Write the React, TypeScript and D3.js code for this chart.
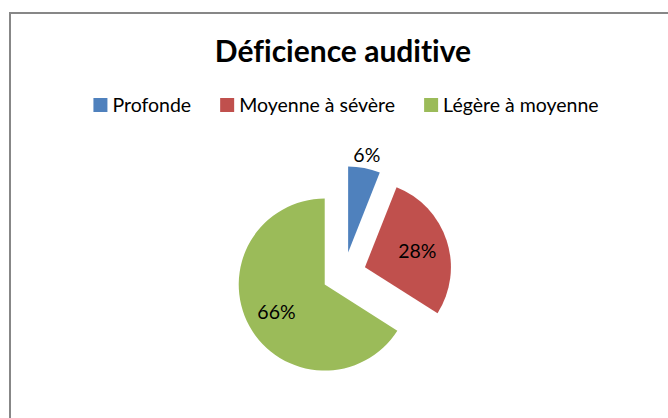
import React from "react";
import * as d3 from "d3";

const categories = ["Profonde", "Moyenne à sévère", "Légère à moyenne"];
const values = [6, 28, 66];
const colors = ["#4F81BD", "#C0504D", "#9BBB59"];
const title = "Déficience auditive";

const W = 668;
const H = 418;
const FONT = "Lato, 'Open Sans', sans-serif";

function measure(text: string, font: string): number {
  const c = document.createElement("canvas");
  const ctx = c.getContext("2d");
  if (!ctx) return text.length * 8;
  ctx.font = font;
  return ctx.measureText(text).width;
}

export default function App() {
  const cx = 344;
  const cy = 274;
  const r = 86;
  const explode = 22;

  const pie = d3.pie<number>().sort(null).value((d) => d)(values);
  const arc = d3.arc<d3.PieArcDatum<number>>().innerRadius(0).outerRadius(r);
  const total = d3.sum(values);

  const legendFontSize = 19.5;
  const sq = 14;
  const sqGap = 5;
  const itemGap = 29;
  const widths = categories.map((c) => measure(c, `${legendFontSize}px Lato`));
  const itemW = widths.map((w) => sq + sqGap + w);
  const totalLegend = d3.sum(itemW) + itemGap * (categories.length - 1);
  const legendX0 = 346 - totalLegend / 2;
  const legendXs: number[] = [];
  let acc = legendX0;
  itemW.forEach((w) => {
    legendXs.push(acc);
    acc += w + itemGap;
  });

  const noLig = { fontVariantLigatures: "none" } as React.CSSProperties;

  return (
    <svg
      width={W}
      height={H}
      style={{ position: "absolute", left: 0, top: 0, background: "#fff" }}
    >
      <rect x={0} y={0} width={W} height={H} fill="#fff" />
      <rect
        x={10}
        y={13}
        width={W + 20}
        height={H + 20}
        fill="#fff"
        stroke="#878787"
        strokeWidth={2}
      />
      <text
        x={343}
        y={62}
        textAnchor="middle"
        fontFamily={FONT}
        fontWeight="bold"
        fontSize={30}
        fill="#000"
        style={noLig}
      >
        {title}
      </text>
      {categories.map((c, i) => (
        <g key={c}>
          <rect x={legendXs[i]} y={98} width={sq} height={sq} fill={colors[i]} />
          <text
            x={legendXs[i] + sq + sqGap}
            y={112}
            fontFamily={FONT}
            fontSize={legendFontSize}
            fill="#000"
            style={noLig}
          >
            {c}
          </text>
        </g>
      ))}
      {pie.map((p, i) => {
        const mid = (p.startAngle + p.endAngle) / 2;
        const dx = Math.sin(mid) * explode;
        const dy = -Math.cos(mid) * explode;
        const pct = Math.round((p.value / total) * 100);
        const outside = pct < 10;
        const lr = outside ? r + 14 : r * 0.64;
        const lx = Math.sin(mid) * lr;
        const ly = -Math.cos(mid) * lr;
        return (
          <g key={i} transform={`translate(${cx + dx},${cy + dy})`}>
            <path d={arc(p) || ""} fill={colors[i]} />
            <text
              x={lx}
              y={ly}
              textAnchor="middle"
              dominantBaseline="central"
              fontFamily={FONT}
              fontSize={19.5}
              fill="#000"
            >
              {pct}%
            </text>
          </g>
        );
      })}
    </svg>
  );
}
